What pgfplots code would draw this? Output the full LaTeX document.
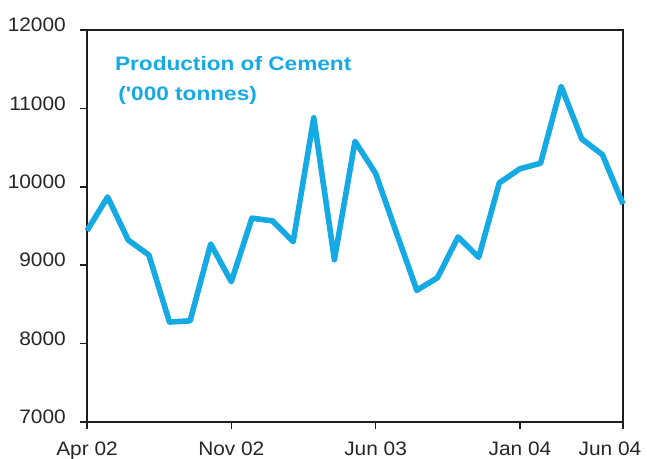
\documentclass[border=0pt]{standalone}
\usepackage{fontspec}
\setmainfont{Liberation Sans}[FakeStretch=1.07]
\newfontfamily\titlefont{Liberation Sans}[FakeStretch=1.16]
\usepackage{pgfplots}
\pgfplotsset{compat=1.18}
\definecolor{cement}{RGB}{22,170,228}
\definecolor{axisgray}{RGB}{30,30,30}

% monthly production, Apr 02 (0) to Jun 04 (26)
\pgfplotstableread{
m  val
0  9440
1  9870
2  9320
3  9130
4  8275
5  8290
6  9270
7  8790
8  9600
9  9565
10 9300
11 10880
12 9070
13 10580
14 10170
15 9420
16 8680
17 8840
18 9360
19 9100
20 10050
21 10230
22 10300
23 11280
24 10610
25 10410
26 9780
}\cementdata

\begin{document}
\begin{tikzpicture}
\begin{axis}[
  name=ax,
  width=536pt, height=392pt,
  scale only axis,
  xmin=0, xmax=26,
  ymin=7000, ymax=12000,
  xtick={0,7,14,21,26},
  xticklabels={Apr 02, Nov 02, Jun 03, Jan 04, \hspace*{-26pt}Jun 04},
  ytick={7000,8000,...,12000},
  scaled y ticks=false,
  tick pos=left,
  tick align=outside,
  major tick length=7pt,
  axis line style={axisgray, line width=1.8pt},
  tick style={axisgray, line width=1.6pt},
  /pgf/number format/assume math mode=true,
  /pgf/number format/1000 sep={},
  tick label style={font=\fontsize{19.5}{22}\selectfont, text=black!85},
  yticklabel style={anchor=east, inner sep=0pt, xshift=-14pt, yshift=5pt},
  xticklabel style={anchor=north, inner sep=0pt, yshift=-13pt},
  clip=false,
]
\addplot[cement, line width=5.6pt, line join=round] table[x=m, y=val] {\cementdata};
\node[anchor=base west, inner sep=0pt, text=cement,
  font=\titlefont\bfseries\fontsize{19.5}{22}\selectfont]
  at (rel axis cs:0.052,0.8954) {Production of Cement};
\node[anchor=base west, inner sep=0pt, text=cement,
  font=\titlefont\bfseries\fontsize{19.5}{22}\selectfont]
  at (rel axis cs:0.058,0.8214) {('000 tonnes)};
\end{axis}
\pgfresetboundingbox
\path ([shift={(-87pt,-37pt)}]ax.south west) rectangle ([shift={(24pt,30pt)}]ax.north east);
\end{tikzpicture}
\end{document}
